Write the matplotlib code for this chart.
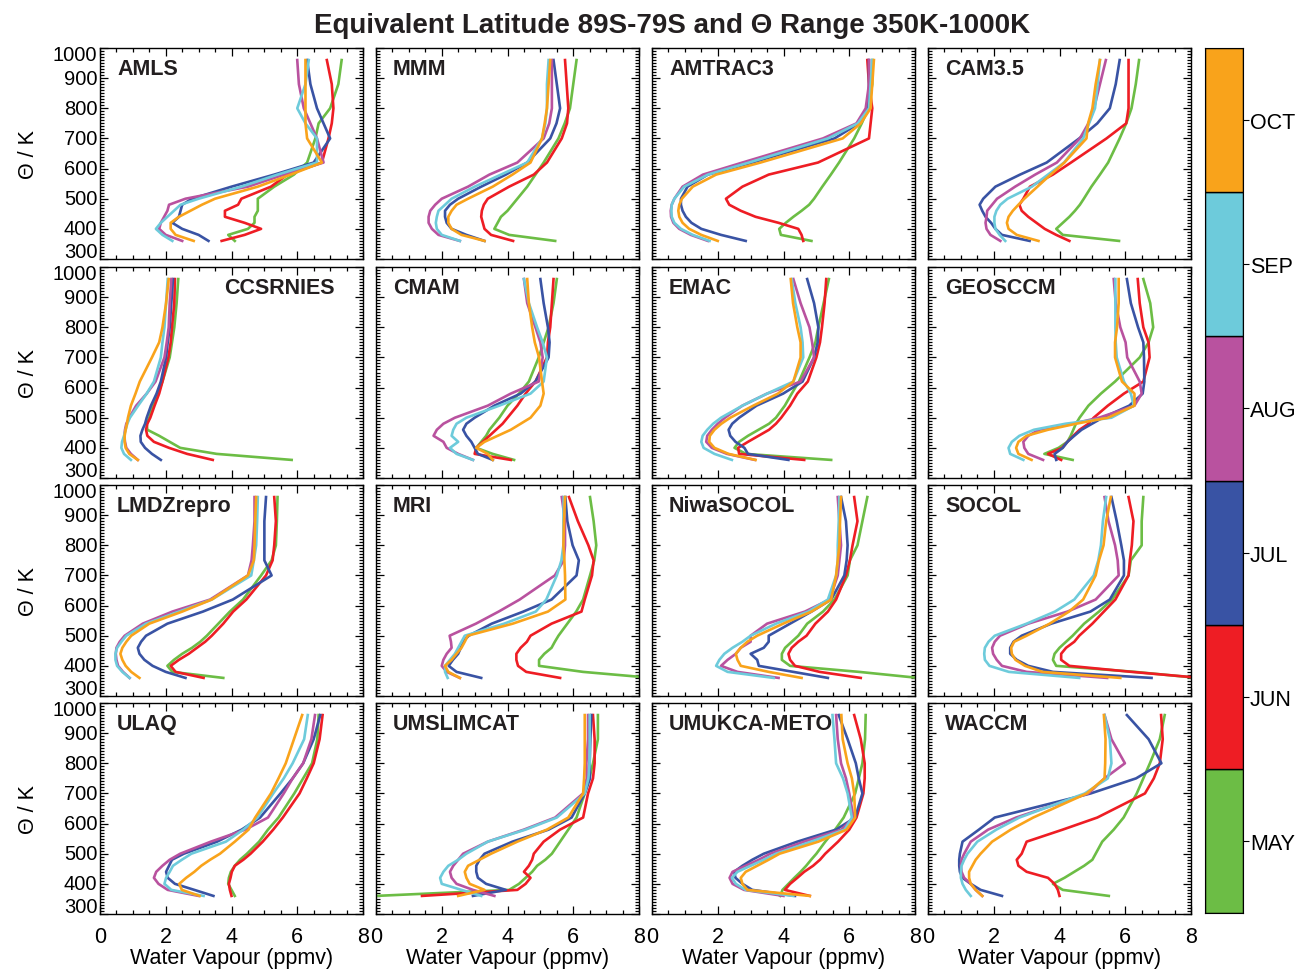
import matplotlib
matplotlib.use('Agg')
import matplotlib.pyplot as plt
from matplotlib.ticker import MultipleLocator

plt.rcParams['font.family'] = ['Liberation Sans', 'DejaVu Sans']

# potential temperature levels (K) at which the profiles were read
theta = [360, 380, 400, 420, 440, 460, 480, 500, 540, 580, 620, 700, 750, 800, 880, 960]

months = ['MAY', 'JUN', 'JUL', 'AUG', 'SEP', 'OCT']
month_colors = ['#6cbd45', '#ee1d24', '#3953a4', '#b9529f', '#6dcbdb', '#f9a31b']

models = ['AMLS', 'MMM', 'AMTRAC3', 'CAM3.5',
          'CCSRNIES', 'CMAM', 'EMAC', 'GEOSCCM',
          'LMDZrepro', 'MRI', 'NiwaSOCOL', 'SOCOL',
          'ULAQ', 'UMSLIMCAT', 'UMUKCA-METO', 'WACCM']

# water vapour (ppmv), one row per month MAY..OCT
amls = [
    [4.1, 3.9, 4.5, 4.7, 4.7, 4.8, 4.8, 4.8, 5.3, 5.9, 6.3, 6.55, 6.65, 7.0, 7.25, 7.35],
    [3.7, 4.4, 4.9, 4.4, 3.8, 3.8, 4.2, 4.3, 5.2, 5.7, 6.75, 6.95, 7.05, 7.1, 7.05, 6.9],
    [3.3, 3.0, 2.5, 2.2, 2.4, 2.45, 2.5, 2.8, 4.0, 5.3, 6.5, 7.0, 6.8, 6.6, 6.4, 6.3],
    [2.5, 2.0, 1.8, 1.85, 1.95, 2.05, 2.1, 2.6, 4.5, 5.6, 6.8, 6.6, 6.4, 6.2, 6.05, 6.0],
    [2.2, 1.9, 1.7, 1.85, 2.05, 2.25, 2.45, 3.0, 4.3, 5.4, 6.6, 6.6, 6.25, 6.0, 6.25, 6.35],
    [2.85, 2.3, 2.15, 2.15, 2.4, 2.75, 3.1, 3.5, 4.8, 5.8, 6.75, 6.3, 6.25, 6.25, 6.25, 6.25],
]
mmm = [
    [5.45, 4.05, 3.6, 3.7, 3.8, 4.0, 4.15, 4.3, 4.6, 4.85, 5.1, 5.55, 5.74, 5.9, 6.0, 6.1],
    [4.17, 3.5, 3.3, 3.25, 3.2, 3.22, 3.28, 3.4, 4.05, 4.8, 5.2, 5.65, 5.81, 5.85, 5.8, 5.75],
    [3.3, 2.75, 2.3, 2.15, 2.1, 2.1, 2.25, 2.5, 3.2, 3.95, 4.6, 5.3, 5.49, 5.6, 5.5, 5.4],
    [2.55, 1.9, 1.7, 1.6, 1.6, 1.65, 1.8, 2.0, 2.8, 3.45, 4.3, 5.1, 5.27, 5.35, 5.35, 5.35],
    [2.55, 2.0, 1.85, 1.82, 1.85, 1.9, 2.1, 2.3, 3.0, 3.8, 4.6, 5.05, 5.15, 5.2, 5.2, 5.25],
    [3.3, 2.6, 2.3, 2.2, 2.2, 2.3, 2.45, 2.8, 3.55, 4.15, 4.7, 5.05, 5.13, 5.2, 5.25, 5.3],
]
amtrac3 = [
    [4.85, 3.92, 3.87, 4.07, 4.3, 4.55, 4.78, 4.93, 5.18, 5.44, 5.69, 6.15, 6.38, 6.58, 6.7, 6.7],
    [4.6, 4.55, 4.45, 3.85, 3.15, 2.7, 2.35, 2.25, 2.75, 3.55, 5.05, 6.6, 6.65, 6.7, 6.6, 6.55],
    [2.85, 2.1, 1.5, 1.2, 1.03, 0.93, 0.88, 0.88, 1.08, 1.7, 3.05, 5.55, 6.3, 6.55, 6.6, 6.6],
    [1.7, 1.18, 0.83, 0.65, 0.58, 0.57, 0.6, 0.68, 0.93, 1.55, 2.75, 5.2, 6.22, 6.5, 6.6, 6.6],
    [1.75, 1.24, 0.88, 0.68, 0.6, 0.59, 0.6, 0.68, 0.98, 1.7, 2.95, 5.35, 6.26, 6.6, 6.65, 6.7],
    [2.0, 1.5, 1.13, 0.93, 0.83, 0.8, 0.83, 0.91, 1.24, 1.95, 3.3, 5.8, 6.35, 6.65, 6.7, 6.75],
]
cam35 = [
    [5.81, 4.1, 3.9, 4.1, 4.3, 4.47, 4.62, 4.74, 4.97, 5.23, 5.48, 5.83, 6.03, 6.19, 6.32, 6.42],
    [4.3, 3.9, 3.55, 3.3, 3.05, 2.85, 2.78, 2.9, 3.1, 3.8, 4.35, 5.43, 6.03, 6.1, 6.1, 6.1],
    [3.09, 2.25, 2.05, 1.92, 1.75, 1.65, 1.57, 1.68, 2.05, 2.8, 3.61, 4.6, 5.15, 5.53, 5.71, 5.83],
    [2.2, 1.9, 1.78, 1.75, 1.78, 1.8, 1.95, 2.1, 2.65, 3.26, 3.92, 4.62, 4.88, 5.05, 5.23, 5.41],
    [2.35, 2.18, 2.05, 2.02, 2.02, 2.08, 2.2, 2.42, 3.16, 3.65, 4.14, 4.72, 4.9, 5.08, 5.16, 5.23],
    [3.36, 2.7, 2.45, 2.4, 2.45, 2.58, 2.75, 2.93, 3.33, 3.73, 4.15, 4.82, 4.87, 5.0, 5.1, 5.23],
]
ccsrnies = [
    [5.83, 3.55, 2.44, 2.12, 1.8, 1.44, 1.42, 1.5, 1.6, 1.76, 1.9, 2.12, 2.19, 2.26, 2.33, 2.38],
    [3.43, 2.65, 2.1, 1.64, 1.44, 1.4, 1.44, 1.53, 1.66, 1.8, 1.9, 2.08, 2.15, 2.19, 2.26, 2.28],
    [1.85, 1.58, 1.37, 1.24, 1.23, 1.29, 1.37, 1.42, 1.55, 1.72, 1.85, 2.01, 2.06, 2.12, 2.17, 2.22],
    [1.15, 0.94, 0.8, 0.76, 0.74, 0.76, 0.8, 0.89, 1.1, 1.42, 1.69, 1.96, 2.03, 2.09, 2.12, 2.17],
    [0.94, 0.73, 0.65, 0.67, 0.73, 0.78, 0.83, 0.91, 1.16, 1.42, 1.64, 1.85, 1.9, 1.96, 2.01, 2.06],
    [1.15, 0.89, 0.78, 0.75, 0.75, 0.78, 0.82, 0.85, 0.94, 1.08, 1.21, 1.58, 1.8, 1.9, 2.01, 2.09],
]
cmam = [
    [4.2, 3.55, 3.05, 3.2, 3.35, 3.45, 3.6, 3.75, 4.0, 4.35, 4.65, 4.95, 5.1, 5.25, 5.4, 5.5],
    [4.1, 3.0, 3.05, 3.25, 3.45, 3.65, 3.85, 4.0, 4.3, 4.55, 4.85, 5.2, 5.23, 5.3, 5.35, 5.4],
    [3.55, 3.1, 3.0, 2.9, 2.75, 2.65, 2.75, 3.0, 3.6, 4.4, 4.85, 5.25, 5.28, 5.23, 5.1, 5.0],
    [2.95, 2.5, 2.15, 2.05, 1.75, 1.85, 2.05, 2.4, 3.4, 4.1, 4.95, 5.07, 5.0, 4.85, 4.6, 4.5],
    [2.95, 2.45, 2.25, 2.5, 2.3, 2.35, 2.45, 2.75, 3.75, 4.7, 5.1, 5.2, 5.07, 4.9, 4.65, 4.5],
    [3.55, 3.4, 3.05, 3.3, 3.7, 4.1, 4.4, 4.7, 5.0, 5.1, 5.05, 4.96, 4.83, 4.75, 4.65, 4.6],
]
emac = [
    [5.45, 2.86, 2.51, 2.65, 2.92, 3.24, 3.56, 3.77, 4.04, 4.25, 4.47, 4.79, 4.97, 5.06, 5.22, 5.38],
    [4.63, 2.65, 2.62, 2.92, 3.24, 3.56, 3.77, 3.93, 4.2, 4.42, 4.74, 5.0, 5.11, 5.17, 5.25, 5.3],
    [4.15, 2.92, 2.81, 2.54, 2.38, 2.33, 2.44, 2.65, 3.18, 3.99, 4.58, 4.93, 5.04, 5.06, 4.93, 4.72],
    [3.13, 2.28, 1.82, 1.65, 1.68, 1.82, 2.0, 2.22, 2.75, 3.5, 4.52, 4.93, 4.87, 4.79, 4.52, 4.3],
    [2.43, 1.9, 1.57, 1.5, 1.54, 1.68, 1.86, 2.1, 2.75, 3.5, 4.3, 4.6, 4.58, 4.52, 4.36, 4.25],
    [3.15, 2.33, 1.9, 1.74, 1.76, 1.9, 2.11, 2.38, 3.08, 3.83, 4.3, 4.52, 4.52, 4.42, 4.29, 4.22],
]
geosccm = [
    [4.4, 3.54, 3.97, 4.24, 4.34, 4.42, 4.5, 4.61, 4.88, 5.26, 5.69, 6.44, 6.71, 6.85, 6.76, 6.55],
    [4.05, 3.65, 4.08, 4.24, 4.42, 4.61, 4.88, 5.04, 5.47, 5.96, 6.55, 6.74, 6.71, 6.55, 6.44, 6.38],
    [3.9, 3.85, 4.1, 4.24, 4.45, 4.67, 4.99, 5.31, 6.12, 6.53, 6.58, 6.57, 6.55, 6.39, 6.17, 6.05],
    [3.5, 3.05, 2.93, 2.9, 3.05, 3.38, 4.4, 5.2, 6.28, 6.5, 6.44, 6.06, 6.01, 5.85, 5.71, 5.65],
    [2.9, 2.5, 2.45, 2.55, 2.78, 3.22, 4.18, 5.58, 6.26, 6.17, 5.96, 5.74, 5.71, 5.7, 5.7, 5.7],
    [3.15, 2.75, 2.68, 2.75, 3.0, 3.65, 4.5, 5.47, 6.28, 6.28, 5.9, 5.69, 5.69, 5.75, 5.8, 5.8],
]
lmdzrepro = [
    [3.75, 2.2, 2.05, 2.25, 2.5, 2.8, 3.05, 3.25, 3.6, 3.95, 4.35, 4.9, 5.22, 5.35, 5.38, 5.4],
    [3.15, 2.3, 2.15, 2.4, 2.7, 2.95, 3.2, 3.4, 3.75, 4.05, 4.45, 5.05, 5.25, 5.3, 5.35, 5.3],
    [2.6, 2.0, 1.6, 1.35, 1.2, 1.15, 1.25, 1.4, 2.05, 3.13, 4.04, 5.22, 5.0, 5.0, 5.0, 5.05],
    [0.9, 0.7, 0.55, 0.5, 0.48, 0.5, 0.6, 0.75, 1.3, 2.2, 3.35, 4.5, 4.61, 4.65, 4.7, 4.7],
    [0.9, 0.68, 0.52, 0.47, 0.47, 0.52, 0.65, 0.8, 1.4, 2.4, 3.4, 4.6, 4.68, 4.75, 4.78, 4.8],
    [1.2, 0.95, 0.78, 0.68, 0.62, 0.68, 0.8, 0.95, 1.5, 2.5, 3.4, 4.5, 4.68, 4.7, 4.72, 4.75],
]
mri = [
    [8.4, 6.3, 4.96, 4.96, 5.12, 5.34, 5.44, 5.55, 5.82, 6.09, 6.3, 6.51, 6.64, 6.7, 6.62, 6.51],
    [5.6, 4.57, 4.32, 4.27, 4.27, 4.4, 4.59, 4.7, 5.34, 6.25, 6.35, 6.57, 6.62, 6.46, 6.14, 5.87],
    [3.2, 2.45, 2.21, 2.34, 2.5, 2.58, 2.64, 2.82, 3.52, 4.48, 5.34, 6.1, 6.17, 5.98, 5.82, 5.76],
    [2.55, 2.15, 2.0, 2.05, 2.15, 2.3, 2.28, 2.24, 3.04, 3.73, 4.37, 5.44, 5.71, 5.75, 5.75, 5.65],
    [2.18, 2.1, 2.1, 2.25, 2.4, 2.5, 2.6, 2.7, 3.9, 4.86, 5.18, 5.5, 5.64, 5.7, 5.7, 5.71],
    [2.55, 2.2, 2.1, 2.3, 2.45, 2.6, 2.7, 2.79, 4.16, 5.23, 5.76, 5.75, 5.73, 5.7, 5.72, 5.75],
]
niwasocol = [
    [8.1, 6.3, 4.2, 3.95, 3.95, 4.05, 4.25, 4.45, 4.72, 5.2, 5.55, 5.95, 6.02, 6.25, 6.4, 6.55],
    [6.35, 5.1, 4.35, 4.2, 4.15, 4.25, 4.45, 4.7, 4.97, 5.35, 5.6, 5.9, 6.02, 6.1, 6.25, 6.15],
    [5.35, 4.3, 3.25, 3.2, 3.0, 3.4, 3.55, 3.55, 4.2, 4.85, 5.45, 5.85, 5.92, 5.95, 5.9, 5.75],
    [3.85, 2.6, 2.1, 2.3, 2.55, 2.7, 3.0, 3.0, 3.5, 4.65, 5.4, 5.65, 5.7, 5.75, 5.7, 5.65],
    [3.7, 2.3, 1.95, 2.05, 2.2, 2.45, 2.75, 3.0, 3.77, 4.75, 5.35, 5.6, 5.65, 5.65, 5.68, 5.7],
    [4.55, 3.55, 2.7, 2.6, 2.55, 2.7, 2.9, 3.2, 3.99, 4.85, 5.45, 5.6, 5.65, 5.7, 5.72, 5.75],
]
socol = [
    [8.2, 6.3, 3.9, 3.8, 3.85, 4.0, 4.2, 4.4, 4.75, 5.2, 5.6, 6.1, 6.17, 6.5, 6.5, 6.55],
    [8.3, 6.2, 4.3, 4.05, 4.05, 4.2, 4.45, 4.6, 5.0, 5.35, 5.7, 6.1, 6.14, 6.2, 6.25, 6.1],
    [6.8, 3.8, 3.05, 2.7, 2.5, 2.5, 2.6, 2.85, 3.75, 4.94, 5.53, 5.96, 5.96, 5.88, 5.74, 5.58],
    [5.45, 3.0, 2.25, 2.09, 1.98, 1.95, 2.03, 2.19, 3.05, 4.24, 5.1, 5.8, 5.77, 5.69, 5.49, 5.37],
    [4.6, 2.46, 1.87, 1.73, 1.71, 1.73, 1.84, 2.03, 3.0, 3.86, 4.45, 5.04, 5.18, 5.26, 5.32, 5.42],
    [5.85, 3.48, 2.95, 2.66, 2.55, 2.53, 2.62, 3.0, 3.7, 4.29, 4.72, 5.1, 5.2, 5.34, 5.42, 5.56],
]
ulaq = [
    [4.1, 4.0, 3.9, 3.92, 3.98, 4.1, 4.26, 4.47, 4.84, 5.11, 5.43, 5.91, 6.18, 6.45, 6.61, 6.65],
    [4.0, 3.95, 3.92, 3.97, 4.01, 4.1, 4.36, 4.58, 4.95, 5.27, 5.56, 6.07, 6.29, 6.5, 6.68, 6.77],
    [3.45, 2.87, 2.28, 2.06, 2.01, 2.1, 2.19, 2.55, 3.56, 4.31, 4.87, 5.49, 5.86, 6.18, 6.5, 6.7],
    [3.0, 2.06, 1.78, 1.64, 1.71, 1.9, 2.12, 2.44, 3.37, 4.42, 5.11, 5.59, 5.86, 6.18, 6.43, 6.54],
    [3.15, 2.17, 1.96, 2.01, 2.12, 2.22, 2.49, 2.78, 3.83, 4.36, 4.79, 5.27, 5.59, 5.86, 6.21, 6.32],
    [3.03, 2.49, 2.41, 2.62, 2.87, 3.08, 3.35, 3.65, 4.1, 4.52, 4.72, 5.2, 5.43, 5.65, 5.9, 6.15],
]
umslimcat = [
    [0.0, 4.05, 4.35, 4.55, 4.75, 4.9, 5.15, 5.35, 5.6, 5.85, 6.1, 6.35, 6.49, 6.6, 6.75, 6.75],
    [1.4, 4.3, 4.55, 4.7, 4.5, 4.65, 4.75, 4.8, 5.1, 5.6, 6.3, 6.45, 6.6, 6.65, 6.65, 6.6],
    [2.95, 3.95, 3.35, 3.1, 3.05, 3.05, 3.15, 3.3, 4.15, 5.25, 5.95, 6.35, 6.51, 6.5, 6.52, 6.55],
    [3.6, 2.95, 2.45, 2.3, 2.25, 2.35, 2.5, 2.65, 3.4, 4.5, 5.45, 6.3, 6.41, 6.4, 6.45, 6.45],
    [3.2, 2.6, 2.0, 1.95, 2.05, 2.2, 2.5, 2.75, 3.4, 4.55, 5.5, 6.35, 6.46, 6.5, 6.5, 6.5],
    [2.5, 3.3, 2.85, 2.75, 2.7, 2.8, 3.15, 3.5, 4.3, 5.2, 5.85, 6.3, 6.33, 6.35, 6.35, 6.35],
]
umukca_meto = [
    [3.9, 3.97, 4.15, 4.33, 4.52, 4.69, 4.84, 5.0, 5.27, 5.57, 5.83, 6.18, 6.29, 6.4, 6.48, 6.5],
    [4.8, 4.04, 4.2, 4.42, 4.63, 4.9, 5.11, 5.27, 5.66, 6.0, 6.22, 6.43, 6.47, 6.47, 6.35, 6.15],
    [4.35, 3.05, 2.75, 2.54, 2.5, 2.75, 3.05, 3.4, 4.42, 5.6, 6.18, 6.4, 6.29, 6.2, 5.95, 5.68],
    [4.0, 2.8, 2.45, 2.36, 2.45, 2.85, 3.25, 3.6, 4.63, 5.76, 6.13, 6.0, 5.9, 5.75, 5.65, 5.6],
    [4.3, 2.85, 2.55, 2.43, 2.6, 3.0, 3.4, 3.77, 4.84, 5.86, 6.08, 5.95, 5.81, 5.6, 5.55, 5.49],
    [4.8, 2.9, 2.75, 2.7, 2.85, 3.2, 3.55, 3.88, 5.06, 5.92, 6.18, 6.15, 6.08, 5.95, 5.8, 5.76],
]
waccm = [
    [5.5, 4.1, 3.8, 4.15, 4.45, 4.75, 5.0, 5.1, 5.3, 5.65, 5.95, 6.35, 6.55, 6.75, 7.05, 7.2],
    [4.0, 3.95, 3.85, 3.65, 3.0, 2.75, 2.7, 2.85, 3.0, 4.1, 5.15, 6.6, 6.87, 7.05, 7.14, 7.09],
    [2.25, 1.6, 1.3, 1.05, 0.97, 0.95, 0.95, 0.97, 1.05, 1.55, 2.03, 4.95, 6.33, 7.1, 6.71, 6.05],
    [1.65, 1.45, 1.3, 1.1, 1.02, 1.0, 1.02, 1.1, 1.3, 1.83, 2.68, 4.88, 5.37, 5.99, 5.58, 5.37],
    [1.3, 1.15, 1.05, 1.0, 1.0, 1.02, 1.1, 1.2, 1.5, 2.08, 2.78, 4.77, 5.47, 5.58, 5.53, 5.37],
    [1.65, 1.45, 1.3, 1.25, 1.25, 1.35, 1.45, 1.6, 1.95, 2.52, 3.2, 4.83, 5.37, 5.39, 5.4, 5.35],
]

profiles = [amls, mmm, amtrac3, cam35, ccsrnies, cmam, emac, geosccm,
            lmdzrepro, mri, niwasocol, socol, ulaq, umslimcat, umukca_meto, waccm]

W, H = 1296, 970
fig = plt.figure(figsize=(W / 100, H / 100), dpi=100)

col_left = [100, 376, 652, 928]
row_top = [49, 268, 486, 704]
pw, ph = 263, 211
fs = 15.5
fs_y = 14.5
ytick_vals = list(range(300, 1001, 100))

for i, (name, prof) in enumerate(zip(models, profiles)):
    r, c = divmod(i, 4)
    ax = fig.add_axes([col_left[c] / W, 1 - (row_top[r] + ph) / H, pw / W, ph / H])
    for vals, col in zip(prof, month_colors):
        ax.plot(vals, theta, color=col, lw=1.9, solid_joinstyle='round')
    ax.set_xlim(0, 8)
    ax.set_ylim(300, 1000)
    ax.xaxis.set_major_locator(MultipleLocator(2))
    ax.xaxis.set_minor_locator(MultipleLocator(0.5))
    ax.yaxis.set_major_locator(MultipleLocator(100))
    ax.yaxis.set_minor_locator(MultipleLocator(10))
    ax.tick_params(which='both', direction='in', top=True, right=True, width=0.9)
    ax.tick_params(which='major', length=6)
    ax.tick_params(which='minor', length=3)
    ax.tick_params(axis='x', pad=9, labelsize=fs)
    ax.set_yticklabels([])
    for s in ax.spines.values():
        s.set_linewidth(1.0)
    if c == 0:
        # edge labels are nudged inside the frame so neighbouring rows do not collide
        for v in ytick_vals:
            dy = 5.4 if v == ytick_vals[0] else (-5.0 if v == ytick_vals[-1] else 0)
            ax.annotate(str(v), xy=(0, v), xycoords=('axes fraction', 'data'),
                        xytext=(-2, dy), textcoords='offset points',
                        ha='right', va='center', fontsize=fs_y)
        ax.set_ylabel('\u0398 / K', fontsize=fs)
        ax.yaxis.set_label_coords(-0.232, 0.5)
    if r == 3:
        ax.set_xlabel('Water Vapour (ppmv)', fontsize=fs)
        ax.xaxis.set_label_coords(0.5, -0.155)
    else:
        ax.set_xticklabels([])
    if name == 'CCSRNIES':
        ax.text(0.894, 0.905, name, transform=ax.transAxes, ha='right', va='center',
                fontsize=fs, fontweight='bold', color='#231f20')
    else:
        ax.text(0.065, 0.905, name, transform=ax.transAxes, ha='left', va='center',
                fontsize=fs, fontweight='bold', color='#231f20')

# month colour bar
cax = fig.add_axes([1205 / W, 1 - 914 / H, 38 / W, 865 / H])
for k, (m, col) in enumerate(zip(months, month_colors)):
    cax.bar(0.5, 1, bottom=k, width=1, color=col, edgecolor='black', linewidth=1.0)
cax.set_xlim(0, 1)
cax.set_ylim(0, len(months))
cax.set_xticks([])
cax.set_yticks([k + 0.5 for k in range(len(months))])
cax.set_yticklabels(months, fontsize=fs)
cax.yaxis.tick_right()
cax.tick_params(axis='y', direction='out', length=4, pad=1)

fig.text(672 / W, 1 - 26 / H, 'Equivalent Latitude 89S-79S and \u0398 Range 350K-1000K',
         ha='center', va='center', fontsize=20, fontweight='bold', color='#231f20')

fig.savefig('out.png', dpi=100)
